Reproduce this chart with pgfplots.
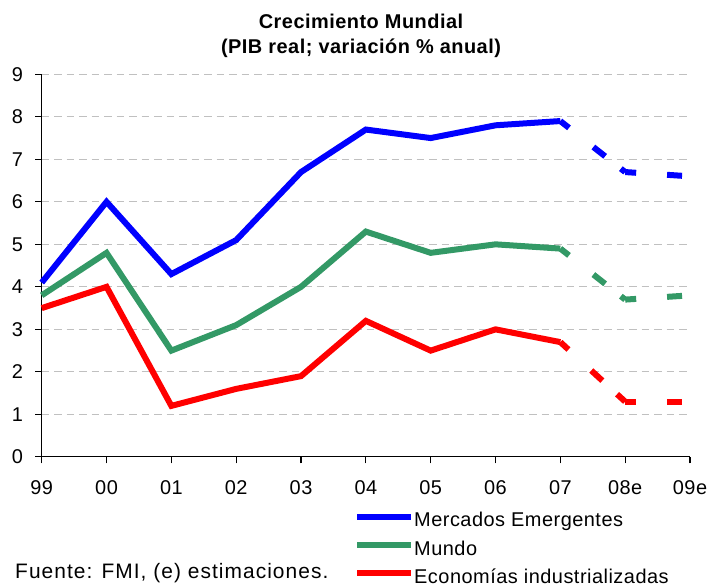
\documentclass[border=0pt]{standalone}
\usepackage{pgfplots}
\pgfplotsset{compat=1.18}
\usepackage{fontspec}
\setmainfont{Liberation Sans}[LetterSpace=2.5]
\definecolor{cblue}{RGB}{0,0,255}
\definecolor{cgreen}{RGB}{51,153,102}
\definecolor{cred}{RGB}{255,0,0}
\definecolor{cgrid}{RGB}{192,192,192}
\begin{document}
\begin{tikzpicture}[x=1bp,y=1bp]
\useasboundingbox (0,0) rectangle (707,585);
\begin{axis}[
  scale only axis, width=648.3bp, height=382.6bp,
  at={(41.7bp,128.1bp)}, anchor=south west,
  xmin=0, xmax=10, ymin=0, ymax=9, clip=false,
  axis x line*=bottom, axis y line*=left,
  axis line style={line width=1.2bp, black, -},
  xtick={0,...,10},
  xticklabels={99,00,01,02,03,04,05,06,07,08e,09e},
  ytick={0,...,9},
  tick align=outside, major tick length=6.5bp,
  tick style={line width=1.2bp, black},
  ymajorgrids, grid style={cgrid, line width=1bp, dash pattern=on 7.5bp off 5bp},
  /pgf/number format/assume math mode=true,
  ticklabel style={font=\fontsize{20}{24}\selectfont, inner sep=0pt},
  yticklabel style={anchor=east, xshift=-12bp},
  xticklabel style={anchor=north, yshift=-16.5bp},
  legend style={at={(0.4817,-0.1458)}, anchor=north west, draw=none, fill=none,
    inner sep=0pt, row sep=13.3bp, font=\fontsize{20}{24}\selectfont,
    nodes={inner sep=0pt, text height=14bp, text depth=1bp},
    /tikz/every even column/.append style={column sep=3bp}},
  legend cell align=left,
  legend image code/.code={\draw[#1, solid, line width=6bp] (0bp,3.5bp) -- (54bp,3.5bp);},
]
% Mercados Emergentes
\addplot[cblue, line width=6bp] coordinates {(0,4.1)(1,6.0)(2,4.3)(3,5.1)(4,6.7)(5,7.7)(6,7.5)(7,7.8)(8,7.9)};
\addlegendentry{Mercados Emergentes}
% Mundo
\addplot[cgreen, line width=6bp] coordinates {(0,3.8)(1,4.8)(2,2.5)(3,3.1)(4,4.0)(5,5.3)(6,4.8)(7,5.0)(8,4.9)};
\addlegendentry{Mundo}
% Economias industrializadas
\addplot[cred, line width=6bp] coordinates {(0,3.5)(1,4.0)(2,1.2)(3,1.6)(4,1.9)(5,3.2)(6,2.5)(7,3.0)(8,2.7)};
\addlegendentry{Economías industrializadas}
% estimates (dashed)
\addplot[cblue, line width=6bp, forget plot, dash pattern=on 11bp off 31bp on 15bp off 20bp] coordinates {(8,7.9)(9,6.7)};
\addplot[cblue, line width=6bp, forget plot, dash pattern=on 11bp off 31bp on 15bp off 20bp] coordinates {(9,6.7)(10,6.6)};
\addplot[cgreen, line width=6bp, forget plot, dash pattern=on 11bp off 31bp on 15bp off 20bp] coordinates {(8,4.9)(9,3.7)};
\addplot[cgreen, line width=6bp, forget plot, dash pattern=on 11bp off 31bp on 15bp off 20bp] coordinates {(9,3.7)(10,3.8)};
\addplot[cred, line width=6bp, forget plot, dash pattern=on 11bp off 31bp on 15bp off 20bp] coordinates {(8,2.7)(9,1.3)};
\addplot[cred, line width=6bp, forget plot, dash pattern=on 11bp off 31bp on 15bp off 20bp] coordinates {(9,1.3)(10,1.3)};
\end{axis}
\node[anchor=base, inner sep=0pt, font=\bfseries\fontsize{20}{24}\selectfont] at (361,556) {Crecimiento Mundial};
\node[anchor=base, inner sep=0pt, font=\bfseries\fontsize{20}{24}\selectfont] at (361,531.7) {(PIB real; variación \% anual)};
\node[anchor=base west, inner sep=0pt, font=\fontsize{21}{24}\selectfont\addfontfeatures{LetterSpace=5}] at (15,6.7) {Fuente: FMI, (e) estimaciones.};
\end{tikzpicture}
\end{document}
